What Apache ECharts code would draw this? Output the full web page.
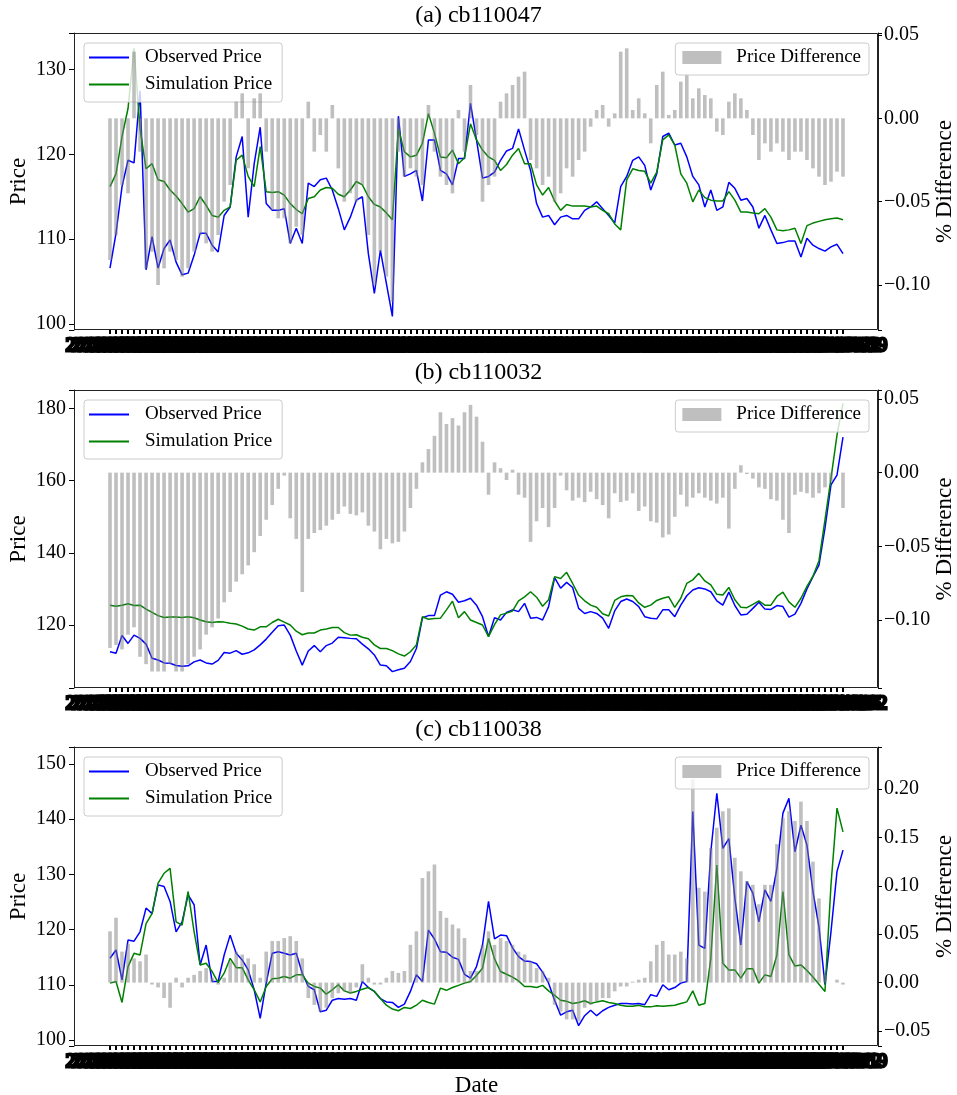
<!DOCTYPE html>
<html><head><meta charset="utf-8">
<script src="https://cdn.jsdelivr.net/npm/echarts@6/dist/echarts.min.js"></script>
<style>html,body{margin:0;padding:0;background:#fff}#c{width:957px;height:1095px}</style>
</head><body><div id="c"></div>
<script>
// ---------- data ----------
const obsA = [106.6,110.7,116.2,119.3,119.0,127.5,106.4,110.3,106.6,108.9,
109.9,107.3,105.8,106.0,108.1,110.7,110.7,109.3,108.5,112.8,
113.8,119.7,122.1,112.6,118.9,123.2,114.2,113.4,113.4,113.6,
109.5,111.3,109.5,116.6,116.2,117.0,117.2,115.8,113.6,111.1,
112.6,114.6,115.0,108.3,103.6,108.7,104.8,100.9,124.5,117.4,
117.7,118.1,114.5,121.7,121.7,118.1,117.7,116.4,119.5,119.5,
126.0,121.7,117.2,117.4,117.9,119.3,120.4,120.7,123.0,120.5,
118.1,114.2,112.6,112.8,111.7,112.6,112.8,112.4,112.4,113.4,
113.8,114.4,113.6,112.8,111.9,116.2,117.4,119.3,119.7,118.7,
115.8,117.7,122.1,122.5,121.1,121.3,119.7,117.4,116.4,113.8,
115.8,113.4,113.8,116.7,116.0,114.6,114.8,113.8,111.3,112.8,
111.1,109.5,109.6,109.8,109.8,107.9,110.1,109.3,108.9,108.6,
109.1,109.4,108.3];
const simA = [116.2,117.7,122.1,125.4,132.5,123.0,118.3,118.9,117.0,116.8,
115.8,115.1,114.2,113.2,113.6,115.0,114.0,112.8,112.6,113.4,
113.8,119.3,119.9,117.4,116.2,120.9,115.6,115.5,115.6,115.2,
114.2,113.5,113.0,114.8,115.0,115.8,116.1,116.0,115.3,115.0,
115.8,116.8,116.4,115.0,114.1,113.8,113.1,112.3,123.0,120.3,
119.7,119.9,121.3,124.8,122.5,119.7,119.6,120.5,118.9,119.6,
123.6,121.7,120.5,119.7,119.3,118.1,118.8,119.9,120.7,118.9,
118.9,116.4,115.2,116.1,114.5,113.4,114.1,113.9,113.9,113.9,
113.8,113.9,113.4,113.0,111.8,111.1,117.0,118.3,118.1,118.0,
116.6,117.9,121.7,122.3,121.1,117.7,116.6,114.4,115.8,114.9,
114.6,114.5,114.5,115.6,114.6,113.2,113.2,113.1,113.0,113.6,
112.6,111.1,111.0,111.1,111.3,109.5,111.6,111.9,112.1,112.3,
112.4,112.5,112.3];
const diffA = [-0.085,-0.07,-0.04,-0.045,0.04,-0.02,-0.09,-0.08,-0.1,-0.09,
-0.08,-0.085,-0.095,-0.09,-0.08,-0.07,-0.075,-0.08,-0.07,-0.05,
-0.04,0.01,0.015,-0.03,0.012,0.015,-0.02,-0.055,-0.06,-0.06,
-0.075,-0.065,-0.07,0.01,-0.02,-0.01,-0.02,0.008,-0.03,-0.05,
-0.045,-0.05,-0.04,-0.07,-0.1,-0.08,-0.095,-0.11,-0.02,-0.035,
-0.03,-0.035,-0.04,0.008,-0.02,-0.035,-0.04,-0.045,0.005,-0.02,
0.02,-0.01,-0.05,-0.04,-0.035,0.01,0.015,0.02,0.025,0.028,
-0.025,-0.03,-0.04,-0.035,-0.05,-0.045,-0.03,-0.035,-0.025,-0.02,
-0.005,0.005,0.008,-0.005,0.003,0.04,0.042,0.005,0.012,0.003,
-0.015,0.02,0.028,0.002,0.005,0.022,0.026,0.012,0.018,0.014,
0.012,-0.008,-0.01,0.01,0.015,0.012,0.005,-0.01,-0.025,-0.015,
-0.02,-0.015,-0.02,-0.025,-0.02,-0.02,-0.025,-0.03,-0.035,-0.04,
-0.038,-0.032,-0.035];

const obsB = [112.6,112.2,117.1,114.9,117.2,116.3,114.7,110.8,110.3,109.5,
109.4,108.8,108.6,108.7,109.8,110.3,109.5,109.2,110.2,112.4,
112.2,112.9,111.9,112.3,113.1,114.5,116.1,118.0,119.8,120.0,
117.2,112.8,108.9,112.8,114.3,112.6,114.3,115.0,116.6,116.5,
116.3,116.2,114.7,113.4,111.7,108.9,108.7,107.1,107.6,108.0,
109.9,113.5,122.0,122.6,122.6,128.3,129.2,128.5,126.3,126.7,
127.4,125.5,122.3,116.8,122.0,121.4,123.5,124.2,123.7,126.0,
121.9,122.1,121.4,125.1,133.1,130.2,131.8,130.4,124.6,123.2,
123.7,123.2,121.9,119.1,123.9,126.5,127.2,126.5,125.1,122.3,
121.9,121.7,124.2,124.2,122.3,125.5,128.1,129.7,130.3,130.0,
129.2,126.7,125.5,129.1,125.4,122.8,123.0,124.6,126.3,124.4,
124.3,125.4,125.1,122.2,123.0,126.0,130.0,133.4,136.6,146.8,
158.8,161.5,172.0];
const simB = [125.5,125.2,125.5,125.9,125.4,125.5,124.4,123.5,122.6,122.1,
122.2,122.2,122.1,122.3,122.0,121.4,120.9,120.7,120.9,120.8,
120.5,120.3,119.7,118.9,118.6,119.5,119.5,120.7,121.6,120.8,
120.0,118.3,117.3,117.8,117.8,118.6,118.9,119.3,119.3,117.9,
117.2,117.3,116.6,116.2,114.5,113.5,113.5,112.9,112.0,111.4,
112.6,114.5,122.3,121.6,121.8,121.9,124.2,126.6,122.0,123.7,
121.4,120.7,120.0,116.8,120.1,122.8,123.3,123.9,126.7,127.8,
129.2,127.7,125.2,127.0,133.4,132.9,134.6,131.5,128.3,126.7,
125.5,124.9,123.1,122.5,126.8,127.8,128.2,128.1,126.1,124.9,
125.5,126.8,127.4,127.8,124.9,127.4,131.5,132.5,134.3,132.2,
131.1,128.5,128.3,130.4,127.0,124.9,124.8,125.7,126.7,125.5,
125.5,127.9,129.1,126.4,124.9,127.4,130.7,133.5,137.8,149.1,
160.6,172.6,181.4];
const diffB = [-0.119,-0.117,-0.12,-0.11,-0.105,-0.125,-0.13,-0.135,-0.135,-0.135,
-0.13,-0.135,-0.135,-0.13,-0.125,-0.12,-0.11,-0.105,-0.099,-0.088,
-0.081,-0.074,-0.069,-0.063,-0.054,-0.043,-0.032,-0.022,-0.011,-0.002,
-0.031,-0.045,-0.081,-0.045,-0.041,-0.039,-0.036,-0.032,-0.028,-0.023,
-0.028,-0.029,-0.027,-0.036,-0.04,-0.052,-0.045,-0.048,-0.047,-0.04,
-0.024,-0.011,0.007,0.016,0.025,0.041,0.033,0.037,0.032,0.041,
0.046,0.038,0.021,-0.015,0.007,0.003,-0.005,0.002,-0.015,-0.017,
-0.047,-0.033,-0.024,-0.037,-0.024,-0.002,-0.012,-0.019,-0.017,-0.02,
-0.013,-0.018,-0.022,-0.031,-0.014,-0.02,-0.019,-0.014,-0.026,-0.023,
-0.033,-0.034,-0.044,-0.042,-0.03,-0.015,-0.023,-0.017,-0.014,-0.017,
-0.019,-0.021,-0.017,-0.038,-0.011,0.005,-0.001,-0.004,-0.01,-0.011,
-0.018,-0.019,-0.032,-0.041,-0.015,-0.013,-0.014,-0.017,-0.014,-0.01,
-0.006,0,-0.024];

const obsC = [114.8,116.3,110.9,118.1,117.9,119.6,123.9,122.9,128.1,127.8,
125.1,119.6,121.4,126.3,124.5,113.6,117.2,110.6,110.6,115.4,
119.0,115.7,114.5,112.7,109.1,103.9,110.3,115.7,116.0,115.7,
115.4,115.7,112.1,109.7,109.1,105.1,105.4,107.2,107.5,107.4,
107.5,107.2,110.6,109.5,108.8,107.5,106.9,106.8,105.9,106.5,
108.8,111.8,110.6,119.9,118.3,116.0,115.9,115.0,114.6,111.9,
111.2,113.3,117.2,125.1,118.3,119.0,118.9,116.7,115.1,114.3,
114.2,113.8,112.3,110.3,107.2,104.5,105.1,105.4,102.6,104.4,
105.4,104.4,105.3,105.9,106.3,106.6,106.6,106.5,106.6,106.4,
108.2,107.9,110.0,109.1,109.5,110.3,110.6,141.4,117.2,116.6,
134.1,144.7,134.7,136.5,125.7,117.2,128.7,126.6,121.4,127.2,
125.1,131.1,141.1,143.8,134.1,138.9,135.3,126.9,120.5,110.0,
119.6,130.5,134.4];
const simC = [110.3,110.6,106.8,113.3,115.7,115.4,121.1,122.9,128.4,130.2,
131.1,121.4,120.8,126.9,119.6,113.6,113.9,112.4,110.4,112.1,
114.8,113.1,113.1,110.9,109.1,106.9,109.7,111.1,111.2,111.5,
111.2,111.8,111.8,110.3,109.7,109.4,108.3,109.1,110.0,108.9,
108.5,108.8,109.2,109.5,108.8,107.5,106.3,105.6,105.3,105.9,
105.7,106.3,107.2,106.8,106.5,109.4,109.0,109.5,109.9,110.3,
110.6,111.7,113.0,118.4,114.7,112.4,111.9,111.4,110.7,109.7,
109.7,109.5,109.9,108.9,108.1,107.2,107.0,106.6,106.8,107.1,
106.6,106.9,107.1,106.8,106.6,106.3,106.1,106.1,106.3,106.0,
106.0,106.2,106.1,106.2,106.3,106.6,106.9,108.9,106.3,106.6,
114.8,131.7,113.9,112.7,112.7,111.2,112.9,112.9,110.3,111.8,
111.5,115.4,126.9,115.4,113.4,113.6,112.6,111.4,110.1,108.8,
128.1,142.0,137.7];
const diffC = [0.053,0.067,0.032,0.04,0.025,0.022,0.029,-0.002,-0.005,-0.016,
-0.026,0.005,-0.005,0.005,0.008,0.012,0.015,0.005,-0.002,0.005,
0.022,0.032,0.029,0.025,0.019,0.005,0.032,0.043,0.043,0.046,
0.048,0.043,0.025,-0.016,-0.023,-0.03,-0.026,-0.016,-0.011,-0.009,
-0.011,-0.005,0.019,0.005,-0.002,-0.002,0.005,0.012,0.01,0.012,
0.039,0.053,0.108,0.115,0.122,0.074,0.067,0.06,0.056,0.046,
0.012,0.012,0.039,0.053,0.039,0.046,0.043,0.039,0.032,0.029,
0.022,0.015,0.012,0.005,-0.023,-0.03,-0.038,-0.038,-0.04,-0.026,
-0.023,-0.019,-0.016,-0.016,-0.009,-0.004,-0.004,0.001,0.003,0.005,
0.022,0.039,0.043,0.029,0.029,0.032,0.025,0.21,0.098,0.094,
0.139,0.16,0.177,0.18,0.129,0.115,0.105,0.101,0.081,0.101,
0.101,0.143,0.17,0.177,0.167,0.187,0.167,0.125,0.087,0.008,
0,0.003,-0.002];

// categories: trading dates (labels overlap into a solid band, as in the reference)
function makeDates(startISO, n, stepDays) {
  const out = [], t0 = Date.parse(startISO + 'T00:00:00Z');
  for (let i = 0; i < n; i++) out.push(new Date(t0 + i * stepDays * 86400000).toISOString().slice(0, 10));
  return out;
}
const datesA = makeDates('2018-05-29', obsA.length, 7);
const datesB = makeDates('2016-12-29', obsB.length, 7);
const datesC = makeDates('2019-02-16', obsC.length, 7);

const titles = ['(a) cb110047', '(b) cb110032', '(c) cb110038'];
const seriesNames = ['Observed Price', 'Simulation Price', 'Price Difference'];

// ---------- layout ----------
const FONT = 'Liberation Serif';
const BAR_COLOR = 'rgba(128,128,128,0.5)';
const FRAME_L = 74, FRAME_R = 878, DATA_L = 110, DATA_R = 843, W = 957;
const panels = [
  {top: 33,  h: 297, obs: obsA, sim: simA, diff: diffA, dates: datesA, lmin: 99.3,  lmax: 134.3,  lsplit: 4, rmin: -0.127,  rmax: 0.0512, rsplit: 4},
  {top: 390, h: 298, obs: obsB, sim: simB, diff: diffB, dates: datesB, lmin: 102.56, lmax: 185.07, lsplit: 4, rmin: -0.1462, rmax: 0.0561, rsplit: 4},
  {top: 747, h: 299, obs: obsC, sim: simC, diff: diffC, dates: datesC, lmin: 98.91, lmax: 153.08, lsplit: 5, rmin: -0.0655, rmax: 0.2434, rsplit: 6}
];

const leftFmt = v => Math.abs(v - Math.round(v)) < 1e-4 ? String(Math.round(v)) : '';
const rightFmt = v => {
  const h = Math.round(v * 100);
  if (Math.abs(v * 100 - h) > 1e-4 || h % 5 !== 0) return '';
  return (h / 100).toFixed(2).replace('-', '\u2212');
};

// thin bars drawn through the axes' own scales (api.coord / api.size)
function renderDiffBar(params, api) {
  const x = api.value(0), v = api.value(1);
  const p0 = api.coord([x, 0]), p1 = api.coord([x, v]);
  const w = Math.max(1, api.size([1, 0])[0] * 0.6);
  return {type: 'rect',
    shape: {x: p0[0] - w / 2, y: Math.min(p0[1], p1[1]), width: w, height: Math.abs(p1[1] - p0[1])},
    style: {fill: BAR_COLOR}};
}

const grid = [], xAxis = [], yAxis = [], series = [], legend = [], title = [], graphic = [];
panels.forEach((p, k) => {
  grid.push({left: DATA_L, right: W - DATA_R, top: p.top, height: p.h, containLabel: false, outerBoundsMode: 'none'});
  title.push({text: titles[k], left: 'center', top: p.top - 29, padding: 0,
    textStyle: {fontFamily: FONT, fontSize: 24, fontWeight: 'normal', color: '#000'}});
  xAxis.push({type: 'category', gridIndex: k, data: p.dates, boundaryGap: false, position: 'bottom',
    axisLine: {show: false, onZero: false},
    axisTick: {show: true, interval: 0, length: 4, lineStyle: {color: '#000', width: 2}},
    axisLabel: {interval: 0, fontFamily: FONT, fontSize: 19, color: '#000', margin: 7,
      textBorderColor: '#000', textBorderWidth: 3},
    splitLine: {show: false},
    name: k === 2 ? 'Date' : '', nameLocation: 'middle', nameGap: 26,
    nameTextStyle: {fontFamily: FONT, fontSize: 23, color: '#000', textBorderWidth: 0}});
  yAxis.push({type: 'value', gridIndex: k, position: 'left', offset: DATA_L - FRAME_L,
    min: p.lmin, max: p.lmax, splitNumber: p.lsplit, splitLine: {show: false},
    axisLine: {show: true, lineStyle: {color: '#222'}},
    axisTick: {show: true, length: 5, lineStyle: {color: '#000'}},
    axisLabel: {fontFamily: FONT, fontSize: 20, color: '#000', margin: 8, formatter: leftFmt},
    name: 'Price', nameLocation: 'middle', nameGap: 44, nameRotate: 90, nameMoveOverlap: false,
    nameTextStyle: {fontFamily: FONT, fontSize: 23, color: '#000'}});
  yAxis.push({type: 'value', gridIndex: k, position: 'right', offset: FRAME_R - DATA_R,
    min: p.rmin, max: p.rmax, splitNumber: p.rsplit, splitLine: {show: false},
    axisLine: {show: true, lineStyle: {color: '#222'}},
    axisTick: {show: true, length: 4, lineStyle: {color: '#000'}},
    axisLabel: {fontFamily: FONT, fontSize: 20, color: '#000', margin: 6, formatter: rightFmt},
    name: '% Difference', nameLocation: 'middle', nameGap: 55, nameRotate: 90, nameMoveOverlap: false,
    nameTextStyle: {fontFamily: FONT, fontSize: 23, color: '#000'}});
  series.push({type: 'line', name: seriesNames[0], xAxisIndex: k, yAxisIndex: 2 * k, data: p.obs,
    symbol: 'none', showSymbol: false, lineStyle: {color: '#0000ff', width: 1.5}, itemStyle: {color: '#0000ff'}, z: 2});
  series.push({type: 'line', name: seriesNames[1], xAxisIndex: k, yAxisIndex: 2 * k, data: p.sim,
    symbol: 'none', showSymbol: false, lineStyle: {color: '#008000', width: 1.5}, itemStyle: {color: '#008000'}, z: 3});
  series.push({type: 'custom', name: seriesNames[2], xAxisIndex: k, yAxisIndex: 2 * k + 1,
    data: p.diff.map((v, i) => [i, v]), encode: {x: 0, y: 1},
    renderItem: renderDiffBar, itemStyle: {color: BAR_COLOR}, z: 5, clip: false});
  const off = p.top - 33;
  legend.push({data: [seriesNames[0], seriesNames[1]], orient: 'vertical', left: 84, top: 43 + off,
    icon: 'rect', itemWidth: 40, itemHeight: 2, itemGap: 8, padding: [5, 10, 8, 5],
    textStyle: {fontFamily: FONT, fontSize: 19, color: '#000', padding: [0, 0, 0, 11]},
    backgroundColor: 'rgba(255,255,255,0.8)', borderColor: '#cccccc', borderWidth: 1, borderRadius: 3,
    selectedMode: false, z: 4});
  legend.push({data: [{name: seriesNames[2], itemStyle: {color: BAR_COLOR}}], orient: 'vertical', right: W - 869, top: 43 + off,
    icon: 'rect', itemWidth: 39, itemHeight: 13, padding: [5, 8, 8, 7],
    textStyle: {fontFamily: FONT, fontSize: 19, color: '#000', padding: [0, 0, 0, 10]},
    backgroundColor: 'rgba(255,255,255,0.8)', borderColor: '#cccccc', borderWidth: 1, borderRadius: 3,
    selectedMode: false, z: 6});
  graphic.push({type: 'rect', silent: true, z: 10,
    shape: {x: FRAME_L + 0.5, y: p.top + 0.5, width: FRAME_R - FRAME_L - 1, height: p.h - 1},
    style: {fill: null, stroke: '#222', lineWidth: 1}});
});

const chart = echarts.init(document.getElementById('c'), null, {renderer: 'canvas'});
chart.setOption({
  animation: false,
  backgroundColor: '#fff',
  textStyle: {fontFamily: FONT},
  title, grid, xAxis, yAxis, series, legend, graphic
});
</script></body></html>
